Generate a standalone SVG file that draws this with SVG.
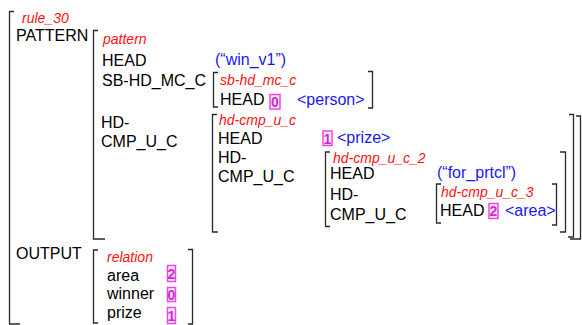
<svg xmlns="http://www.w3.org/2000/svg" width="582" height="325" viewBox="0 0 582 325">
  <style>
    .br { fill: none; stroke: #2a2a2a; stroke-width: 1.3; }
    .t { font-family: "Liberation Sans", Arial, sans-serif; font-size: 16px; fill: #000; }
    .lbl { font-family: "Liberation Sans", Arial, sans-serif; font-size: 14px; font-style: italic; fill: #ff1010; }
    .val { font-family: "Liberation Sans", Arial, sans-serif; font-size: 16px; fill: #1818f0; }
    .tag { fill: #fff0ff; stroke: #ee44ee; stroke-width: 1.5; }
    .num { font-family: "Liberation Sans", Arial, sans-serif; font-size: 14px; font-weight: bold; fill: #d424d4; text-anchor: middle; }
  </style>
  <rect width="582" height="325" fill="#fff"/>

  <!-- rule_30 -->
  <g id="rule_30">
    <path class="br" d="M14,11.5 H9.5 V324 H20"/>
    <text class="lbl" x="22" y="23">rule_30</text>
    <text class="t" x="16" y="41">PATTERN</text>
    <text class="t" x="16" y="259">OUTPUT</text>
  </g>

  <!-- pattern -->
  <g id="pattern">
    <path class="br" d="M98,30.5 H93.5 V239 H105"/>
    <path class="br" d="M576,116 H580.5 V239 H570"/>
    <text class="lbl" x="103" y="44">pattern</text>
    <text class="t" x="102" y="66">HEAD</text>
    <text class="val" x="215" y="65">(“win_v1”)</text>
    <text class="t" x="102" y="86">SB-HD_MC_C</text>
    <text class="t" x="101" y="128">HD-</text>
    <text class="t" x="101" y="147">CMP_U_C</text>
  </g>

  <!-- sb-hd_mc_c -->
  <g id="sb-hd_mc_c">
    <path class="br" d="M218,72.5 H213.5 V107 H218"/>
    <path class="br" d="M368,71.5 H372.5 V108 H368"/>
    <text class="lbl" x="220" y="85">sb-hd_mc_c</text>
    <text class="t" x="220" y="105">HEAD</text>
    <rect class="tag" x="270" y="94.5" width="10" height="14.5"/>
    <text class="num" x="275" y="107">0</text>
    <text class="val" x="297" y="105">&lt;person&gt;</text>
  </g>

  <!-- hd-cmp_u_c -->
  <g id="hd-cmp_u_c">
    <path class="br" d="M217,114.5 H212.5 V232 H218"/>
    <path class="br" d="M569,114.5 H573.5 V237 H568"/>
    <text class="lbl" x="219" y="125">hd-cmp_u_c</text>
    <text class="t" x="218" y="144">HEAD</text>
    <rect class="tag" x="323" y="131" width="9" height="14.5"/>
    <text class="num" x="327.5" y="143.5">1</text>
    <text class="val" x="337" y="143">&lt;prize&gt;</text>
    <text class="t" x="218" y="163">HD-</text>
    <text class="t" x="218" y="182">CMP_U_C</text>
  </g>

  <!-- hd-cmp_u_c_2 -->
  <g id="hd-cmp_u_c_2">
    <path class="br" d="M330,152 H325.5 V226.5 H330"/>
    <path class="br" d="M560,152 H565.5 V232 H560"/>
    <text class="lbl" x="333" y="163">hd-cmp_u_c_2</text>
    <text class="t" x="330" y="179">HEAD</text>
    <text class="val" x="437" y="178">(“for_prtcl”)</text>
    <text class="t" x="330" y="200">HD-</text>
    <text class="t" x="330" y="220">CMP_U_C</text>
  </g>

  <!-- hd-cmp_u_c_3 -->
  <g id="hd-cmp_u_c_3">
    <path class="br" d="M441,184 H436.5 V223 H441"/>
    <path class="br" d="M552,184 H556.5 V225 H552"/>
    <text class="lbl" x="441" y="197">hd-cmp_u_c_3</text>
    <text class="t" x="440" y="216">HEAD</text>
    <rect class="tag" x="489" y="203.5" width="9" height="15"/>
    <text class="num" x="493.5" y="216">2</text>
    <text class="val" x="505" y="216">&lt;area&gt;</text>
  </g>

  <!-- relation -->
  <g id="relation">
    <path class="br" d="M98,250 H93.5 V323 H98"/>
    <path class="br" d="M188,249.5 H192.5 V324 H188"/>
    <text class="lbl" x="107" y="262">relation</text>
    <text class="t" x="107" y="281">area</text>
    <text class="t" x="107" y="299">winner</text>
    <text class="t" x="107" y="318">prize</text>
    <rect class="tag" x="167.5" y="265.5" width="8" height="16"/>
    <text class="num" x="171.5" y="279">2</text>
    <rect class="tag" x="167.5" y="287.5" width="8" height="14"/>
    <text class="num" x="171.5" y="300">0</text>
    <rect class="tag" x="167.5" y="307.5" width="8" height="16"/>
    <text class="num" x="171.5" y="321">1</text>
  </g>
</svg>
